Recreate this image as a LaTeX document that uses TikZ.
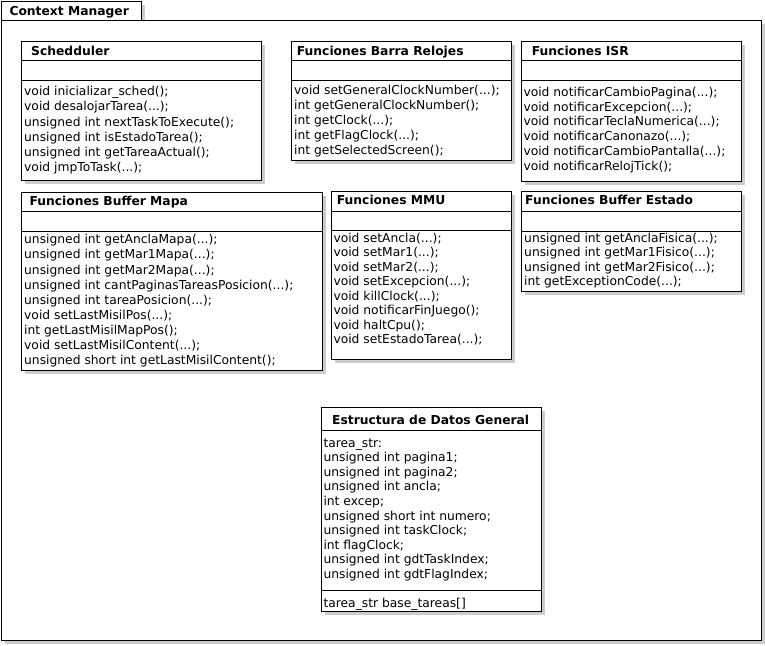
\documentclass[tikz,border=0pt]{standalone}
\usepackage{fontspec}
\setmainfont{DejaVu Sans}
\usepackage{tikz}
\usetikzlibrary{shadows}
\newcommand{\argdots}{...}
\tikzset{
		umlbox/.style={draw, line width=1pt, fill=white, anchor=north west, inner sep=0pt,
			drop shadow={shadow xshift=3.5pt, shadow yshift=-3.5pt, fill=black!20, opacity=1}},
		sepline/.style={line width=1pt},
		classname/.style={anchor=base west, inner sep=0pt, font=\bfseries\fontsize{12.3}{15}\selectfont},
		member/.style={anchor=base west, inner sep=0pt, font=\fontsize{12.3}{15}\selectfont}
	}

\begin{document}
\begin{tikzpicture}[x=1pt,y=-1pt]
				\useasboundingbox (0,0) rectangle (765,645);

				% package frame
				\node[umlbox, minimum width=140pt, minimum height=19pt]   (tab) at (1,1)  {};
				\node[umlbox, minimum width=759.5pt, minimum height=620pt] (pkg) at (1,20) {};
				\node[classname] (pkg-t) at (9.3,15.5) {Context Manager};

				% Schedduler
				\node[umlbox, minimum width=240pt, minimum height=139.6pt] (sched) at (20.7,40.7) {};
				\draw[sepline] (sched.north west) ++(0,20)   -- ++(240,0);
				\draw[sepline] (sched.north west) ++(0,39.6) -- ++(240,0);
				\node[classname] (sched-t) at (31,55) {Schedduler};
				\foreach \m [count=\i from 0] in {void inicializar\_sched();, void desalojarTarea(\argdots);,
					unsigned int nextTaskToExecute();, unsigned int isEstadoTarea();,
					unsigned int getTareaActual();, void jmpToTask(\argdots);}
					\node[member] (sched-\i) at (24,{95.7+15.2*\i}) {\m};

				% Funciones Barra Relojes
				\node[umlbox, minimum width=219.7pt, minimum height=119pt] (reloj) at (291,41) {};
				\draw[sepline] (reloj.north west) ++(0,19.7) -- ++(219.7,0);
				\draw[sepline] (reloj.north west) ++(0,39.7) -- ++(219.7,0);
				\node[classname] (reloj-t) at (296.7,55) {Funciones Barra Relojes};
				\foreach \m [count=\i from 0] in {void setGeneralClockNumber(\argdots);, int getGeneralClockNumber();,
					int getClock(\argdots);, int getFlagClock(\argdots);, int getSelectedScreen();}
					\node[member] (reloj-\i) at (294,{94.8+14.8*\i}) {\m};

				% Funciones ISR
				\node[umlbox, minimum width=219.7pt, minimum height=139.7pt] (isr) at (521,41) {};
				\draw[sepline] (isr.north west) ++(0,19.7) -- ++(219.7,0);
				\draw[sepline] (isr.north west) ++(0,39.7) -- ++(219.7,0);
				\node[classname] (isr-t) at (531.7,55) {Funciones ISR};
				\foreach \m [count=\i from 0] in {void notificarCambioPagina(\argdots);, void notificarExcepcion(\argdots);,
					void notificarTeclaNumerica(\argdots);, void notificarCanonazo(\argdots);,
					void notificarCambioPantalla(\argdots);, void notificarRelojTick();}
					\node[member] (isr-\i) at (523.3,{96.3+14.8*\i}) {\m};

				% Funciones Buffer Mapa
				\node[umlbox, minimum width=301.3pt, minimum height=178.6pt] (mapa) at (21,191.7) {};
				\draw[sepline] (mapa.north west) ++(0,20)   -- ++(301.3,0);
				\draw[sepline] (mapa.north west) ++(0,39.3) -- ++(301.3,0);
				\node[classname] (mapa-t) at (29.3,205.5) {Funciones Buffer Mapa};
				\foreach \m [count=\i from 0] in {unsigned int getAnclaMapa(\argdots);, unsigned int getMar1Mapa(\argdots);,
					unsigned int getMar2Mapa(\argdots);, unsigned int cantPaginasTareasPosicion(\argdots);,
					unsigned int tareaPosicion(\argdots);, void setLastMisilPos(\argdots);, int getLastMisilMapPos();,
					void setLastMisilContent(\argdots);, unsigned short int getLastMisilContent();}
					\node[member] (mapa-\i) at (24,{243.8+15.1*\i}) {\m};

				% Funciones MMU
				\node[umlbox, minimum width=179.7pt, minimum height=168.6pt] (mmu) at (331,190.7) {};
				\draw[sepline] (mmu.north west) ++(0,21) -- ++(179.7,0);
				\draw[sepline] (mmu.north west) ++(0,40) -- ++(179.7,0);
				\node[classname] (mmu-t) at (336.7,204.5) {Funciones MMU};
				\foreach \m [count=\i from 0] in {void setAncla(\argdots);, void setMar1(\argdots);, void setMar2(\argdots);,
					void setExcepcion(\argdots);, void killClock(\argdots);, void notificarFinJuego();,
					void haltCpu();, void setEstadoTarea(\argdots);}
					\node[member] (mmu-\i) at (333.3,{242.2+14.5*\i}) {\m};

				% Funciones Buffer Estado
				\node[umlbox, minimum width=220pt, minimum height=100.3pt] (estado) at (520.7,190.7) {};
				\draw[sepline] (estado.north west) ++(0,20.3) -- ++(220,0);
				\draw[sepline] (estado.north west) ++(0,40.3) -- ++(220,0);
				\node[classname] (estado-t) at (525,204.5) {Funciones Buffer Estado};
				\foreach \m [count=\i from 0] in {unsigned int getAnclaFisica(\argdots);, unsigned int getMar1Fisico(\argdots);,
					unsigned int getMar2Fisico(\argdots);, int getExceptionCode(\argdots);}
					\node[member] (estado-\i) at (524,{242.2+14.5*\i}) {\m};

				% Estructura de Datos General
				\node[umlbox, minimum width=220pt, minimum height=204pt] (gdt) at (320.7,406.7) {};
				\draw[sepline] (gdt.north west) ++(0,24)  -- ++(220,0);
				\draw[sepline] (gdt.north west) ++(0,184) -- ++(220,0);
				\node[classname, anchor=base] (gdt-t) at (430.7,424.5) {Estructura de Datos General};
				\foreach \m [count=\i from 0] in {tarea\_str:, unsigned int pagina1;, unsigned int pagina2;,
					unsigned int ancla;, int excep;, unsigned short int numero;, unsigned int taskClock;,
					int flagClock;, unsigned int gdtTaskIndex;, unsigned int gdtFlagIndex;}
					\node[member] (gdt-\i) at (323.3,{447+14.6*\i}) {\m};
				\node[member] (gdt-op) at (323.3,607) {tarea\_str base\_tareas[]};
			\end{tikzpicture}
\end{document}
